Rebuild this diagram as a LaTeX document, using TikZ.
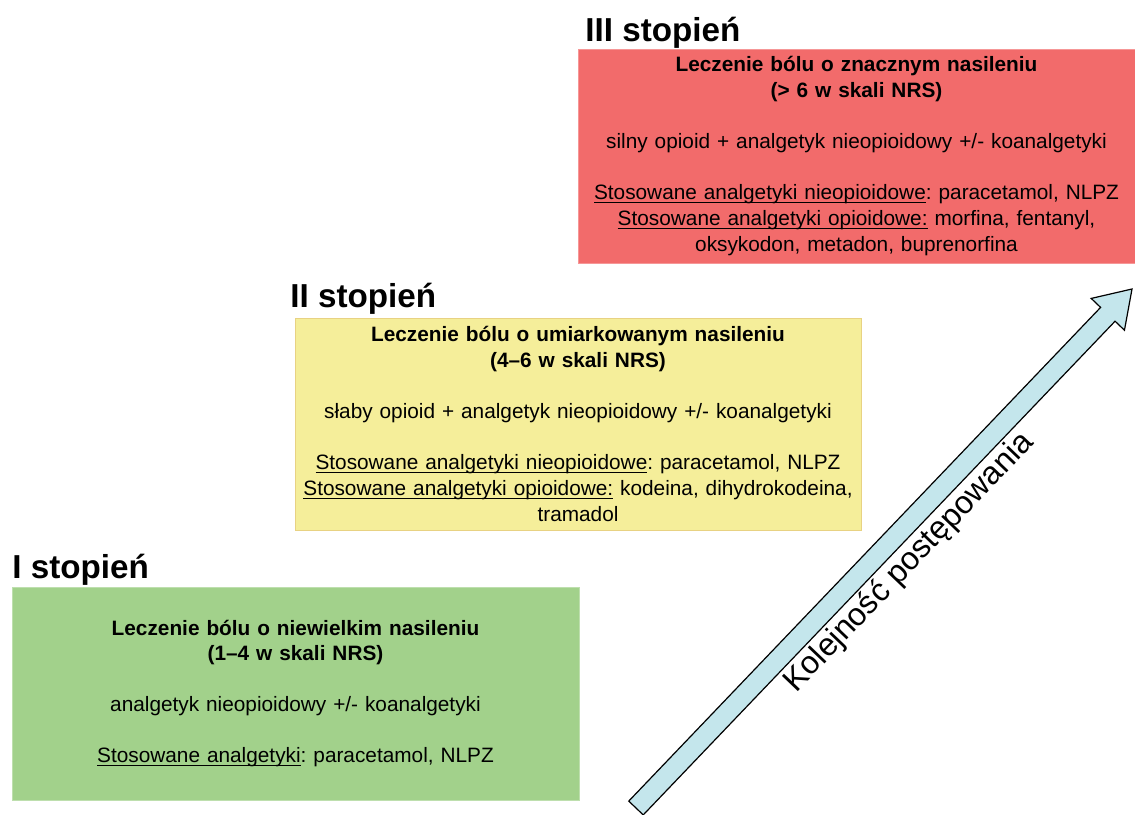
\documentclass[tikz,border=0pt]{standalone}
\usepackage{fontspec}
\setmainfont{Liberation Sans}
\usetikzlibrary{calc}

\definecolor{stageone}{HTML}{A2D18B}
\definecolor{stagetwo}{HTML}{F5EE9A}
\definecolor{stagethree}{HTML}{F26B6B}
\definecolor{arrowblue}{HTML}{C4E6EC}

\newcommand{\uln}[1]{$\underline{\smash{\hbox{#1}}}$}
\frenchspacing

\tikzset{
  stagebox/.style={rectangle, inner sep=0pt, align=center,
    font=\fontsize{10.4}{12.9}\selectfont},
  stagetitle/.style={anchor=base west, inner sep=0pt,
    font=\fontsize{16.6}{18}\selectfont\bfseries}
}

\begin{document}
\begin{tikzpicture}[x=0.5pt,y=-0.5pt]
    \useasboundingbox (0,0) rectangle (1135,814);
    % the three stages
    \node[stagebox, fill=stagethree, draw=stagethree!70!white, minimum width=278.5pt,
      minimum height=107pt, text width=277pt] (box3) at (856.5,156)
      {\textbf{Leczenie bólu o znacznym nasileniu}\\
       \textbf{(> 6 w skali NRS)}\\[12.6pt]
       silny opioid + analgetyk nieopioidowy +/- koanalgetyki\\[12.6pt]
       \uln{Stosowane analgetyki nieopioidowe}: paracetamol, NLPZ\\
       \uln{Stosowane analgetyki opioidowe:} morfina, fentanyl,\\
       oksykodon, metadon, buprenorfina};
    \node[stagebox, fill=stagetwo, draw=stagetwo!75!brown, minimum width=283pt,
      minimum height=106pt, text width=282pt] (box2) at (578,424)
      {\textbf{Leczenie bólu o umiarkowanym nasileniu}\\
       \textbf{(4--6 w skali NRS)}\\[12.6pt]
       słaby opioid + analgetyk nieopioidowy +/- koanalgetyki\\[12.6pt]
       \uln{Stosowane analgetyki nieopioidowe}: paracetamol, NLPZ\\
       \uln{Stosowane analgetyki opioidowe:} kodeina, dihydrokodeina,\\
       tramadol};
    \node[stagebox, fill=stageone, draw=stageone!70!white, minimum width=283.5pt,
      minimum height=106.5pt, text width=280pt] (box1) at (295.5,693.5)
      {\textbf{Leczenie bólu o niewielkim nasileniu}\\
       \textbf{(1--4 w skali NRS)}\\[12.6pt]
       analgetyk nieopioidowy +/- koanalgetyki\\[12.6pt]
       \uln{Stosowane analgetyki}: paracetamol, NLPZ};
    \node[stagetitle] (title3) at (585,41) {III stopień};
    \node[stagetitle] (title2) at (290,307) {II stopień};
    \node[stagetitle] (title1) at (12,578) {I stopień};
    % the big arrow
    \coordinate (tail) at (636,808);
    \coordinate (tip) at (1132,289);
    \coordinate (headbase) at ($(tip)!17.5pt!(tail)$);
    \draw[fill=arrowblue, line width=0.6pt, line join=miter]
      ($(tail)!5pt!90:(tip)$) -- ($(headbase)!5pt!-90:(tail)$)
      -- ($(headbase)!11.5pt!-90:(tail)$) -- (tip)
      -- ($(headbase)!11.5pt!90:(tail)$) -- ($(headbase)!5pt!90:(tail)$)
      -- ($(tail)!5pt!-90:(tip)$) -- cycle;
    \path (tail) -- (tip) node[pos=0.51, sloped, below=3pt,
      font=\fontsize{16}{18}\selectfont] (order) {Kolejność postępowania};
\end{tikzpicture}
\end{document}
